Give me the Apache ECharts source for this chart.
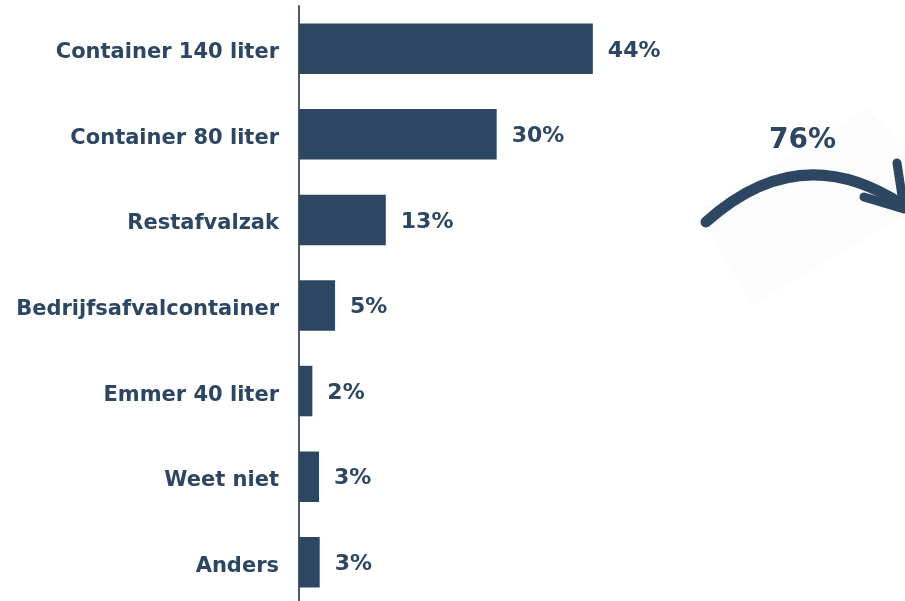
<!DOCTYPE html>
<html>
<head>
<meta charset="utf-8">
<script src="https://cdn.jsdelivr.net/npm/echarts@6/dist/echarts.min.js"></script>
<style>html,body{margin:0;padding:0;background:#fff;}#c{width:905px;height:601px;}</style>
</head>
<body>
<div id="c"></div>
<script>
var categories = ['Container 140 liter', 'Container 80 liter', 'Restafvalzak', 'Bedrijfsafvalcontainer', 'Emmer 40 liter', 'Weet niet', 'Anders'];
var values = [44.0, 29.6, 13.0, 5.4, 2.0, 3.0, 3.1];
var valueLabels = ['44%', '30%', '13%', '5%', '2%', '3%', '3%'];
var arrowLabel = '76%';

var NAVY = '#2d4662';
var FONT = '"DejaVu Sans", Verdana, sans-serif';
var chart = echarts.init(document.getElementById('c'));
chart.setOption({
  backgroundColor: '#ffffff',
  animation: false,
  grid: { left: 299, width: 601, top: 6, height: 599, containLabel: false, outerBoundsMode: 'none' },
  xAxis: { type: 'value', min: 0, max: 90, show: false },
  yAxis: {
    type: 'category', data: categories, inverse: true,
    axisLine: { show: true, lineStyle: { color: '#4b5a6c', width: 2 } },
    axisTick: { show: false },
    axisLabel: {
      color: NAVY, fontFamily: FONT, fontWeight: 'bold', fontSize: 21, margin: 20,
      formatter: function (v) { return '{a|' + v + '}'; },
      rich: { a: { color: NAVY, fontFamily: FONT, fontWeight: 'bold', fontSize: 21, lineHeight: 29, verticalAlign: 'bottom' } }
    }
  },
  graphic: [
    { type: 'polygon', z: -1, shape: { points: [[698, 212], [752, 305], [905, 215], [905, 150], [868, 108]] }, style: { fill: '#fcfcfd' } },
    { type: 'bezierCurve', shape: { x1: 706, y1: 222, cpx1: 800, cpy1: 137, x2: 903, y2: 205 }, style: { stroke: NAVY, lineWidth: 11, fill: null, lineCap: 'round' } },
    { type: 'polyline', shape: { points: [[864, 197], [904, 209], [897, 163]] }, style: { stroke: NAVY, lineWidth: 9, fill: null, lineCap: 'round', lineJoin: 'round' } },
    { type: 'text', left: 769, top: 127, style: { text: arrowLabel, fill: NAVY, font: 'bold 28px ' + FONT } }
  ],
  series: [{
    type: 'bar', data: values, barCategoryGap: '41%',
    itemStyle: { color: NAVY },
    label: {
      show: true, position: 'right', distance: 15, color: NAVY,
      fontFamily: FONT, fontWeight: 'bold', fontSize: 22, offset: [0, 2],
      formatter: function (p) { return valueLabels[p.dataIndex]; }
    }
  }]
});
</script>
</body>
</html>
